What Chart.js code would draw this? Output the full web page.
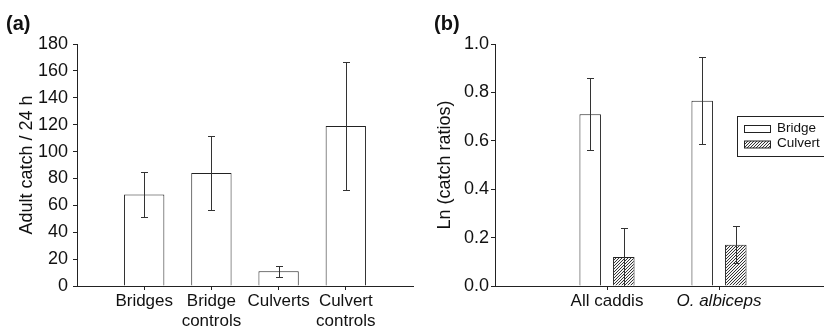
<!DOCTYPE html>
<html>
<head>
<meta charset="utf-8">
<script src="https://cdn.jsdelivr.net/npm/chart.js@4.4.1/dist/chart.umd.min.js"></script>
<style>
  html, body { margin: 0; padding: 0; background: #fff; overflow: hidden; }
  #wrap { position: relative; width: 824px; height: 328px; overflow: hidden; }
  .panel { position: absolute; top: 13px; font: bold 20px 'Liberation Sans', Arial, sans-serif; line-height: 1; color: #111; }
  canvas { position: absolute; top: 0; }
</style>
</head>
<body>
<div id="wrap">
  <canvas id="chartA" width="430" height="328" style="left:0"></canvas>
  <canvas id="chartB" width="410" height="328" style="left:430px"></canvas>
  <div class="panel" style="left:6px">(a)</div>
  <div class="panel" style="left:434px">(b)</div>
</div>
<script>
// panel (a): adult catch per 24 h
var catCatch = ['Bridges', 'Bridge\ncontrols', 'Culverts', 'Culvert\ncontrols'];
var catchMean = [68, 84, 11, 119];
var catchErr = [17, 27.5, 4, 47.5];

// panel (b): ln of catch ratios
var catRatio = ['All caddis', 'O. albiceps'];
var ratioSeries = ['Bridge', 'Culvert'];
var bridgeRatio = [0.71, 0.765];
var bridgeErr = [0.15, 0.18];
var culvertRatio = [0.12, 0.17];
var culvertErr = [0.12, 0.077];

Chart.defaults.font.family = "'Liberation Sans', Arial, sans-serif";
Chart.defaults.color = '#111';

// put an empty slot on each end so the axis runs past the outer bars
function pad(arr, fill) {
    return [fill].concat(arr, [fill]);
}

function hatchPattern() {
    var c = document.createElement('canvas');
    c.width = 3; c.height = 3;
    var g = c.getContext('2d');
    g.fillStyle = '#f4f4f4';
    g.fillRect(0, 0, 3, 3);
    g.strokeStyle = '#333';
    g.lineWidth = 1;
    g.beginPath();
    g.moveTo(0, 3); g.lineTo(3, 0);
    g.moveTo(-1, 1); g.lineTo(1, -1);
    g.moveTo(2, 4); g.lineTo(4, 2);
    g.stroke();
    return g.createPattern(c, 'repeat');
}

var errorBars = {
    id: 'errorBars',
    afterDatasetsDraw: function (chart) {
        var ctx = chart.ctx;
        var y = chart.scales.y;
        ctx.save();
        ctx.strokeStyle = '#333';
        ctx.lineWidth = 1;
        chart.data.datasets.forEach(function (ds, i) {
            var meta = chart.getDatasetMeta(i);
            meta.data.forEach(function (bar, j) {
                var v = ds.data[j], e = ds.errors[j];
                if (v == null) return;
                var x = Math.round(bar.x) + 0.5;
                var top = Math.round(y.getPixelForValue(v + e)) + 0.5;
                var bot = Math.round(y.getPixelForValue(Math.max(v - e, 0))) + 0.5;
                ctx.beginPath();
                ctx.moveTo(x, top); ctx.lineTo(x, bot);
                ctx.moveTo(x - 3.5, top); ctx.lineTo(x + 3.5, top);
                if (v - e > 0) {
                    ctx.moveTo(x - 3.5, bot); ctx.lineTo(x + 3.5, bot);
                }
                ctx.stroke();
            });
        });
        ctx.restore();
    }
};

function axisTickColor(ctx) {
    var n = ctx.chart.data.labels.length;
    return (ctx.index === 0 || ctx.index === n - 1) ? 'rgba(0,0,0,0)' : '#222';
}

var labelsA = pad(catCatch.map(function (s) { return s.split('\n'); }), '');

new Chart(document.getElementById('chartA'), {
    type: 'bar',
    data: {
        labels: labelsA,
        datasets: [{
            data: pad(catchMean, null),
            errors: pad(catchErr, null),
            backgroundColor: '#fff',
            borderColor: '#222',
            borderWidth: 1,
            barPercentage: 0.6,
            categoryPercentage: 1
        }]
    },
    options: {
        responsive: false,
        animation: false,
        layout: { padding: { top: 44, right: 17, left: 0, bottom: 0 } },
        plugins: { legend: { display: false }, tooltip: { enabled: false } },
        scales: {
            x: {
                offset: false,
                grid: { offset: false, drawOnChartArea: false, tickLength: 4, color: axisTickColor },
                border: { color: '#222' },
                ticks: { padding: 1, autoSkip: false, maxRotation: 0, minRotation: 0,
                         font: { size: 17, lineHeight: 1.2 } },
                afterFit: function (s) { s.height = 42; }
            },
            y: {
                min: 0, max: 180,
                ticks: { stepSize: 20, padding: 5, font: { size: 18 } },
                grid: { drawOnChartArea: false, tickLength: 4, color: '#222' },
                border: { color: '#222' },
                title: { display: true, text: 'Adult catch / 24 h', font: { size: 18 },
                         padding: { top: 16, bottom: 0 } },
                afterFit: function (s) { s.width = 77; }
            }
        }
    },
    plugins: [errorBars]
});

var boxLegend = {
    id: 'boxLegend',
    afterDraw: function (chart) {
        var ctx = chart.ctx;
        var x0 = 307, y0 = 116;
        ctx.save();
        ctx.strokeStyle = '#222';
        ctx.lineWidth = 1;
        ctx.strokeRect(x0 + 0.5, y0 + 0.5, 110, 40);
        ctx.font = "13.5px 'Liberation Sans', Arial, sans-serif";
        ctx.textBaseline = 'middle';
        chart.data.datasets.forEach(function (ds, i) {
            var cy = y0 + 13 + i * 15.5;
            ctx.fillStyle = ds.backgroundColor;
            ctx.fillRect(x0 + 7, cy - 3.5, 26, 7);
            ctx.strokeRect(x0 + 7.5, cy - 3.5, 26, 7);
            ctx.fillStyle = '#111';
            ctx.fillText(ds.label, x0 + 40, cy - 1);
        });
        ctx.restore();
    }
};

new Chart(document.getElementById('chartB'), {
    type: 'bar',
    data: {
        labels: pad(catRatio, ''),
        datasets: [{
            label: ratioSeries[0],
            data: pad(bridgeRatio, null),
            errors: pad(bridgeErr, null),
            backgroundColor: '#fff',
            borderColor: '#222',
            borderWidth: 1,
            barPercentage: 0.64,
            categoryPercentage: 0.6
        }, {
            label: ratioSeries[1],
            data: pad(culvertRatio, null),
            errors: pad(culvertErr, null),
            backgroundColor: hatchPattern(),
            borderColor: '#222',
            borderWidth: 1,
            barPercentage: 0.64,
            categoryPercentage: 0.6
        }]
    },
    options: {
        responsive: false,
        animation: false,
        layout: { padding: { top: 44, right: 9, left: 0, bottom: 0 } },
        plugins: { legend: { display: false }, tooltip: { enabled: false } },
        scales: {
            x: {
                offset: false,
                grid: { offset: false, drawOnChartArea: false, tickLength: 4, color: axisTickColor },
                border: { color: '#222' },
                ticks: {
                    padding: 1, autoSkip: false, maxRotation: 0, minRotation: 0,
                    font: function (c) {
                        var it = c.tick && c.tick.label === 'O. albiceps';
                        return { size: 17, lineHeight: 1.2, style: it ? 'italic' : 'normal' };
                    }
                },
                afterFit: function (s) { s.height = 42; }
            },
            y: {
                min: 0, max: 1,
                ticks: { stepSize: 0.2, padding: 2, font: { size: 18 },
                         callback: function (v) { return v.toFixed(1); } },
                grid: { drawOnChartArea: false, tickLength: 4, color: '#222' },
                border: { color: '#222' },
                title: { display: true, text: 'Ln (catch ratios)', font: { size: 18 },
                         padding: { top: 4, bottom: 0 } },
                afterFit: function (s) { s.width = 65; }
            }
        }
    },
    plugins: [errorBars, boxLegend]
});
</script>
</body>
</html>
